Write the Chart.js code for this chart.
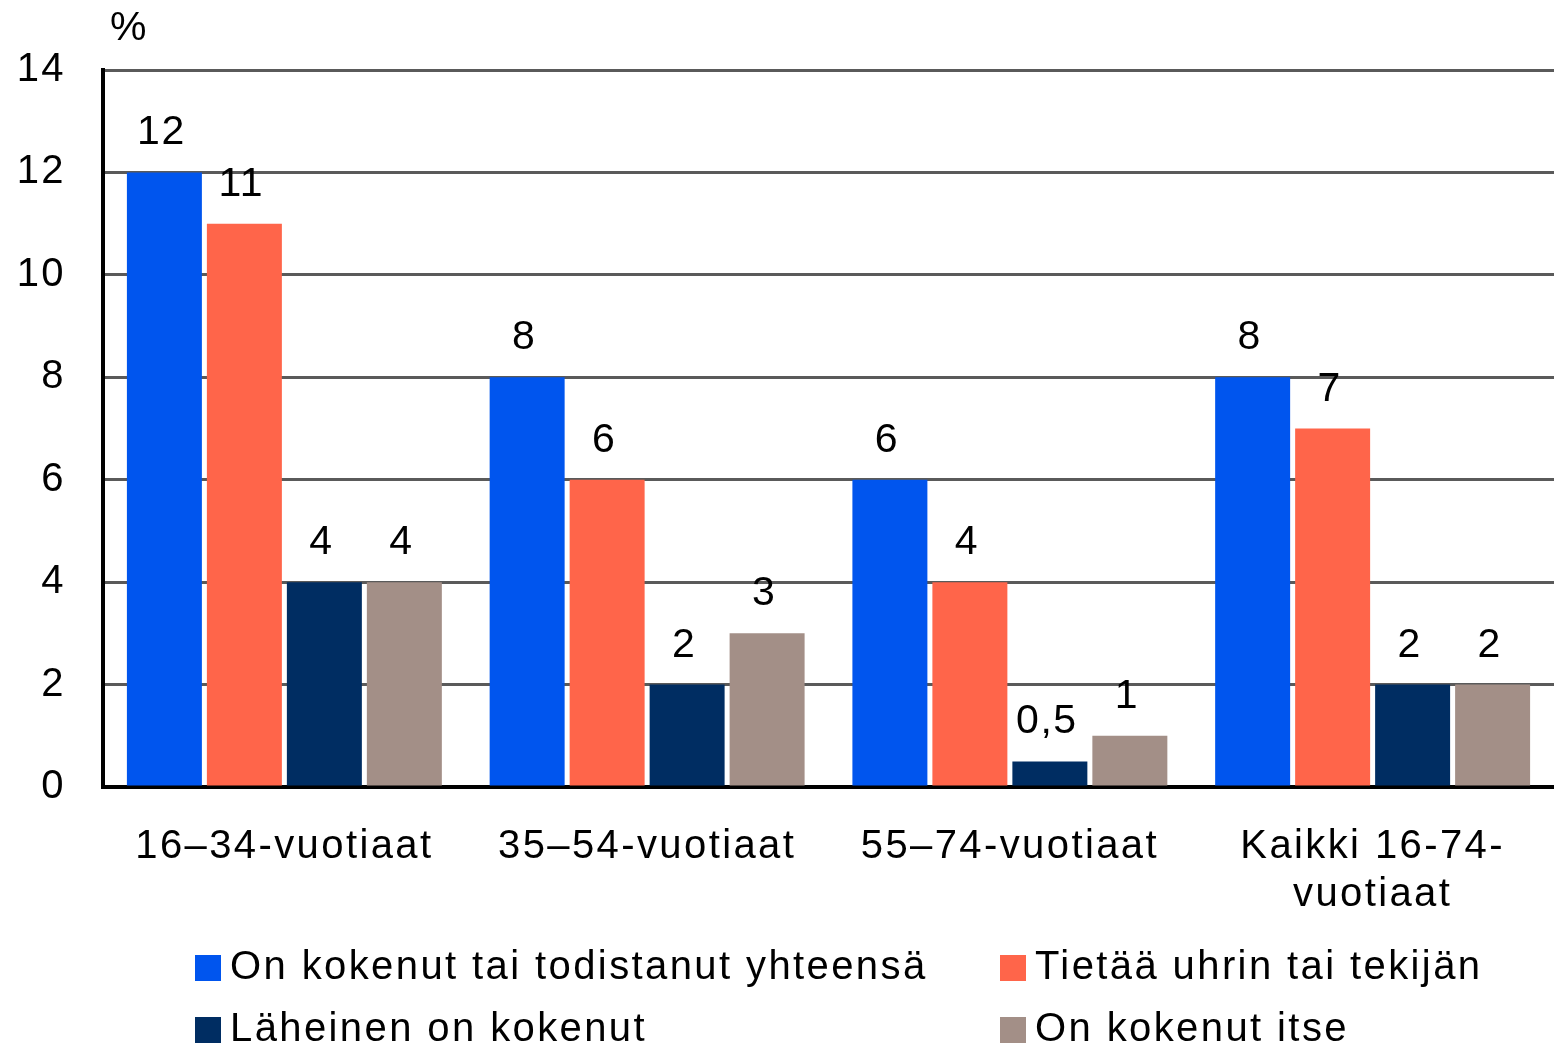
<!DOCTYPE html>
<html>
<head>
<meta charset="utf-8">
<script src="https://cdn.jsdelivr.net/npm/chart.js@4/dist/chart.umd.min.js"></script>
<style>
  html, body { margin: 0; padding: 0; background: #fff; overflow: hidden; }
  #wrap { position: relative; width: 1554px; height: 1045px; overflow: hidden; }
  #kaavio { position: absolute; left: 0; top: 0; }
  .pros { position: absolute; left: 110px; top: 3px; font: 41px "Liberation Sans", Arial, sans-serif; color: #000; }
  .selite { position: absolute; font: 40px "Liberation Sans", Arial, sans-serif; color: #000; white-space: nowrap; line-height: 40px; letter-spacing: 2.4px; }
  .selite i { display: inline-block; width: 26px; height: 26px; margin-right: 9px; vertical-align: -2px; }
</style>
</head>
<body>
<div id="wrap">
  <canvas id="kaavio" width="1554" height="1045"></canvas>
  <div class="pros">%</div>
  <div id="selitteet"></div>
</div>
<script>
  /* ---------- data ---------- */
  const ryhmat = ["16–34-vuotiaat", "35–54-vuotiaat", "55–74-vuotiaat", ["Kaikki 16-74-", "vuotiaat"]];
  const sarjat = [
    "On kokenut tai todistanut yhteensä",
    "Tietää uhrin tai tekijän",
    "Läheinen on kokenut",
    "On kokenut itse"
  ];
  const yhteensa = [12, 8, 6, 8];
  const tietaa = [11, 6, 4, 7];
  const laheinen = [4, 2, 0.5, 2];
  const itse = [4, 3, 1, 2];
  const yTicks = [0, 2, 4, 6, 8, 10, 12, 14];

  const varit = ["#0055EE", "#FF654A", "#002D62", "#A38F87"];
  const fontti = "'Liberation Sans', Arial, sans-serif";

  /* ---------- kirjainväli kaikille canvas-teksteille ---------- */
  const kirjainvali = {
    id: "kirjainvali",
    beforeDraw(chart) {
      chart.ctx.letterSpacing = "2.4px";
    }
  };

  /* ---------- arvot pylväiden päälle ---------- */
  const arvoTekstit = {
    id: "arvoTekstit",
    afterDatasetsDraw(chart) {
      const ctx = chart.ctx;
      ctx.save();
      ctx.letterSpacing = "1.5px";
      ctx.font = "41px " + fontti;
      ctx.fillStyle = "#000";
      ctx.textAlign = "center";
      ctx.textBaseline = "alphabetic";
      chart.data.datasets.forEach((ds, i) => {
        chart.getDatasetMeta(i).data.forEach((bar, j) => {
          ctx.fillText(String(ds.data[j]).replace(".", ","), bar.x - 3, bar.y - 28);
        });
      });
      ctx.restore();
    }
  };

  Chart.defaults.font.family = fontti;
  Chart.defaults.color = "#000";

  new Chart(document.getElementById("kaavio"), {
    type: "bar",
    data: {
      labels: ryhmat,
      datasets: [yhteensa, tietaa, laheinen, itse].map((d, i) => ({
        label: sarjat[i],
        data: d,
        backgroundColor: varit[i],
        borderWidth: 0,
        barPercentage: 0.9375,
        categoryPercentage: 0.882
      }))
    },
    options: {
      responsive: false,
      animation: false,
      layout: { padding: { top: 70, left: 0, right: 0, bottom: 0 } },
      plugins: {
        legend: { display: false },
        tooltip: { enabled: false }
      },
      scales: {
        x: {
          grid: { display: false, drawTicks: false },
          border: { color: "#000", width: 4 },
          ticks: { font: { size: 40 }, padding: 36, maxRotation: 0, autoSkip: false },
          afterFit: s => { s.height = 1045 - 787; }
        },
        y: {
          min: 0,
          max: 14,
          afterBuildTicks: s => { s.ticks = yTicks.map(v => ({ value: v })); },
          grid: { color: "#5a5a5a", lineWidth: 3, drawTicks: false },
          border: { color: "#000", width: 4 },
          ticks: { font: { size: 40 }, padding: 37 },
          afterFit: s => { s.width = 103; }
        }
      }
    },
    plugins: [kirjainvali, arvoTekstit]
  });

  /* ---------- selitteet ---------- */
  const paikat = [[195, 945], [1000, 945], [195, 1007], [1000, 1007]];
  const sel = document.getElementById("selitteet");
  sarjat.forEach((nimi, i) => {
    const d = document.createElement("div");
    d.className = "selite";
    d.style.left = paikat[i][0] + "px";
    d.style.top = paikat[i][1] + "px";
    d.innerHTML = `<i style="background:${varit[i]}"></i>${nimi}`;
    sel.appendChild(d);
  });
</script>
</body>
</html>
